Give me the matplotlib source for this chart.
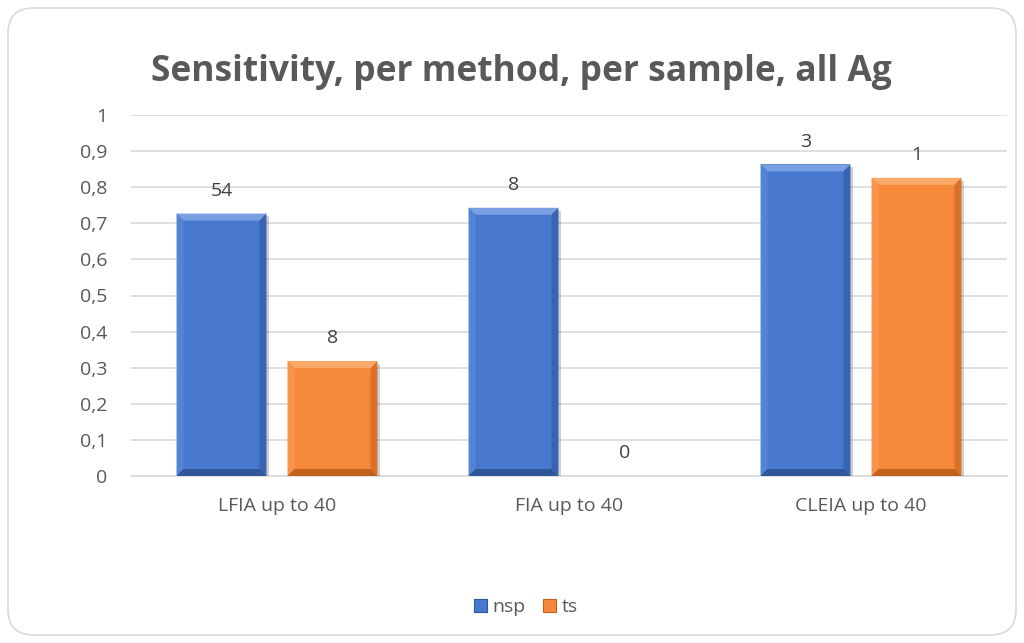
import matplotlib
matplotlib.use("Agg")
import matplotlib.pyplot as plt
from matplotlib.patches import Polygon, FancyBboxPatch, Patch
from matplotlib import patheffects as pe
import numpy as np

categories = ["LFIA up to 40", "FIA up to 40", "CLEIA up to 40"]
series_names = ["nsp", "ts"]
nsp_values = [0.727, 0.743, 0.863]
ts_values = [0.318, 0.0, 0.826]
nsp_labels = ["54", "8", "3"]
ts_labels = ["8", "0", "1"]
y_ticks = [0, 0.1, 0.2, 0.3, 0.4, 0.5, 0.6, 0.7, 0.8, 0.9, 1]
y_tick_labels = ["0", "0,1", "0,2", "0,3", "0,4", "0,5", "0,6", "0,7", "0,8", "0,9", "1"]

plt.rcParams["font.family"] = ["Open Sans", "DejaVu Sans"]
TEXT = "#595959"
GRID = "#D9D9D9"
COLORS = {"nsp": "#4878CD", "ts": "#F6883A"}
LIGHT = {"nsp": "#78A0E3", "ts": "#FBA968"}
DARK = {"nsp": "#30579A", "ts": "#C2611E"}
SIDE_L = {"nsp": "#5584D4", "ts": "#F7944C"}
SIDE_R = {"nsp": "#3964B1", "ts": "#D87129"}

W, H = 1024, 643
fig = plt.figure(figsize=(W / 100, H / 100), dpi=100)

# rounded chart frame, kept behind the axes
frame = FancyBboxPatch((8 / W, 8 / H), (1016 - 8) / W, (635 - 8) / H,
                       boxstyle="round,pad=0,rounding_size=0.025",
                       transform=fig.transFigure, facecolor="white",
                       edgecolor=GRID, linewidth=1.2, mutation_aspect=W / H, zorder=-5)
fig.patches.append(frame)

left, right, top, bottom = 131, 1007, 115, 476
ax = fig.add_axes([left / W, 1 - bottom / H, (right - left) / W, (bottom - top) / H])
ax.set_facecolor("none")
ax.set_xlim(-0.5, 2.5)
ax.set_ylim(0, 1)

x = np.arange(len(categories))
bar_w = 0.308
offset = 0.190
px_x = (right - left) / 3.0
px_y = (bottom - top) / 1.0

shadow = [pe.SimplePatchShadow(offset=(2, -2), shadow_rgbFace="#000000", alpha=0.18), pe.Normal()]


def bevel(rect, key):
    x0 = rect.get_x()
    x1 = x0 + rect.get_width()
    y0 = rect.get_y()
    y1 = y0 + rect.get_height()
    if y1 - y0 <= 0:
        return
    bx = 7 / px_x
    by = min(7 / px_y, (y1 - y0) / 2)
    faces = [
        ([(x0, y1), (x1, y1), (x1 - bx, y1 - by), (x0 + bx, y1 - by)], LIGHT[key]),
        ([(x0, y0), (x0, y1), (x0 + bx, y1 - by), (x0 + bx, y0 + by)], SIDE_L[key]),
        ([(x1, y0), (x1, y1), (x1 - bx, y1 - by), (x1 - bx, y0 + by)], SIDE_R[key]),
        ([(x0, y0), (x1, y0), (x1 - bx, y0 + by), (x0 + bx, y0 + by)], DARK[key]),
    ]
    for pts, c in faces:
        ax.add_patch(Polygon(pts, closed=True, facecolor=c, edgecolor="none", zorder=4))


for key, vals, labs, sign in [("nsp", nsp_values, nsp_labels, -1), ("ts", ts_values, ts_labels, 1)]:
    bars = ax.bar(x + sign * offset, vals, width=bar_w, color=COLORS[key],
                  edgecolor="none", zorder=3, label=key)
    for b, v, lab in zip(bars, vals, labs):
        b.set_path_effects(shadow)
        bevel(b, key)
        ax.annotate(lab, (b.get_x() + b.get_width() / 2, v), xytext=(0, 16.5),
                    textcoords="offset points", ha="center", va="center",
                    fontsize=14, color="#404040")

ax.set_yticks(y_ticks)
ax.set_yticklabels(y_tick_labels)
ax.set_xticks(x)
ax.set_xticklabels(categories)
ax.tick_params(axis="both", length=0, labelsize=14, colors=TEXT)
ax.tick_params(axis="y", pad=17)
ax.tick_params(axis="x", pad=15)
ax.grid(axis="y", color=GRID, linewidth=1.2, zorder=0)
ax.set_axisbelow(True)
for s in ["top", "right", "left"]:
    ax.spines[s].set_visible(False)
ax.spines["bottom"].set_color(GRID)
ax.spines["bottom"].set_linewidth(1.2)

fig.text(0.509, 1 - 72 / H, "Sensitivity, per method, per sample, all Ag",
         ha="center", va="center", fontsize=25.5, fontweight="bold", color=TEXT)

handles = [Patch(facecolor=COLORS[k], edgecolor=DARK[k], linewidth=0.8, label=k) for k in series_names]
fig.legend(handles=handles, loc="center", bbox_to_anchor=(526 / W, 1 - 607 / H),
           ncol=2, frameon=False, fontsize=14, labelcolor=TEXT,
           handlelength=0.65, handleheight=0.65, handletextpad=0.3, columnspacing=0.9)

fig.savefig("out.png", dpi=100)
